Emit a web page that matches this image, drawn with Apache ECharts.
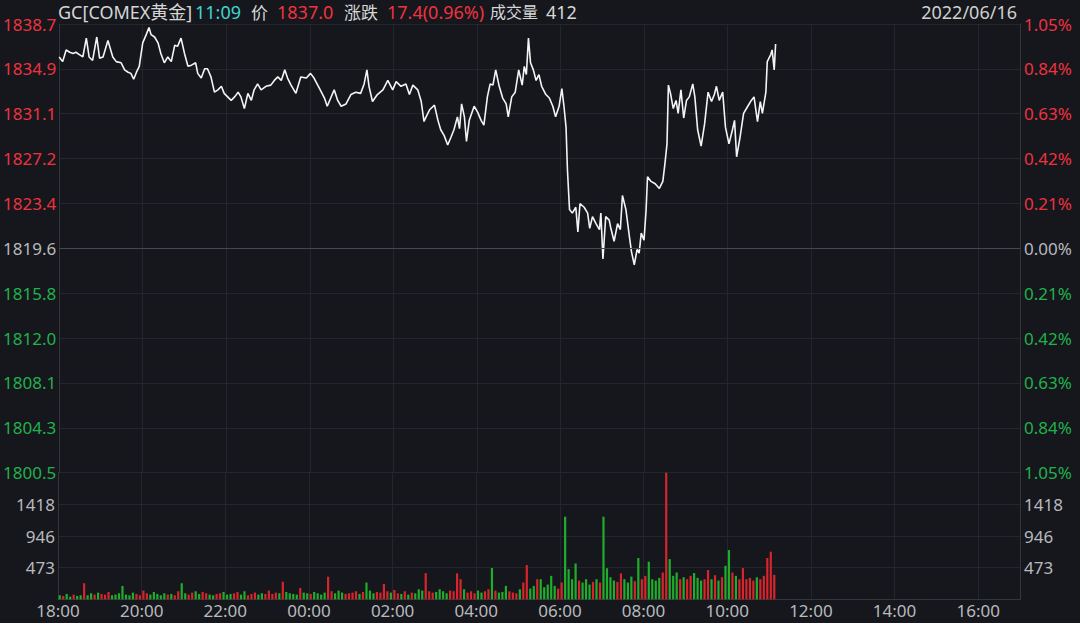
<!DOCTYPE html>
<html><head><meta charset="utf-8">
<script src="https://cdn.jsdelivr.net/npm/echarts@6/dist/echarts.min.js"></script>
<style>html,body{margin:0;padding:0;background:#15171c;}#c{width:1080px;height:623px;}</style>
</head><body><div id="c"></div>
<script>
// ---- data ----
const symbolName = 'GC[COMEX黄金]';
const tradeDate = '2022/06/16';
const sessionOpen = '18:00';
const sessionLengthMin = 1380;        // 18:00 -> next day 17:00
const prevClose = 1819.6;
const rangePct = 1.05;                // axis spans ±1.05%
const lastVolume = 412;
const volumeMax = 1891;
// minutes after 18:00
const minutes = [0,5,10,15,20,24,29,34,39,43,48,54,58,63,70,77,82,89,94,99,103,107,111,115,
120,125,129,132,137,142,146,151,156,161,166,170,175,180,185,190,196,199,204,209,213,218,223,228,233,237,
242,247,252,257,261,266,271,276,280,285,290,297,304,309,314,319,324,328,333,340,347,355,361,366,374,381,
385,390,395,400,405,412,419,426,433,438,442,445,450,457,465,472,479,484,491,498,503,508,515,520,524,527,
532,539,544,548,553,558,563,567,572,575,578,582,585,589,596,601,606,610,615,619,623,627,632,637,642,645,
650,655,660,665,668,671,674,677,681,685,689,693,699,704,709,713,718,722,725,728,730,733,737,742,745,748,
754,759,762,766,771,776,778,781,785,790,792,797,802,806,809,814,819,822,826,830,833,836,840,843,845,850,
856,862,867,870,873,875,878,882,886,889,893,897,901,905,910,913,917,922,927,932,937,941,944,948,953,957,
962,967,970,973,978,983,989,993,998,1003,1007,1010,1015,1017,1022,1024,1027,1029];
const prices = [1835.9,1835.5,1836.5,1836.3,1836.2,1836.3,1836.1,1835.9,1837.5,1835.9,1835.6,1837.6,1835.8,1835.9,1837.3,1835.9,1835.5,1835.4,1834.8,1834.6,1834.5,1834.0,1834.6,1835.1,
1837.1,1837.8,1838.4,1837.8,1837.6,1837.1,1836.2,1835.4,1835.9,1835.5,1836.9,1836.8,1837.5,1836.2,1835.1,1835.2,1835.4,1834.5,1834.1,1834.9,1834.9,1834.2,1832.9,1833.1,1833.4,1832.8,
1832.5,1832.2,1832.5,1832.9,1832.5,1831.5,1832.8,1832.2,1833.1,1833.6,1833.1,1833.4,1833.5,1833.9,1834.2,1833.9,1834.8,1834.1,1833.5,1832.8,1834.2,1834.1,1834.5,1834.1,1833.2,1832.4,
1831.7,1832.4,1833.1,1832.2,1831.7,1831.9,1832.7,1832.9,1832.8,1833.6,1834.8,1833.4,1832.1,1832.7,1833.1,1833.9,1833.1,1833.8,1833.4,1833.6,1832.7,1833.5,1833.1,1832.1,1830.4,1830.8,
1831.4,1831.8,1830.5,1829.7,1829.2,1828.4,1829.1,1829.7,1830.8,1829.8,1831.9,1830.8,1828.7,1830.5,1831.7,1831.2,1830.5,1830.1,1832.5,1833.6,1833.5,1834.8,1833.4,1832.4,1831.9,1830.8,
1832.5,1832.9,1834.8,1833.5,1835.1,1834.4,1837.5,1835.4,1834.8,1833.9,1834.4,1833.4,1832.7,1832.4,1831.7,1830.8,1831.7,1833.2,1831.7,1829.9,1826.3,1822.9,1822.6,1823.1,1821.0,1823.4,
1823.1,1822.6,1821.3,1822.3,1821.7,1821.2,1822.6,1818.7,1822.3,1822.0,1821.4,1820.2,1821.7,1821.2,1824.1,1822.9,1820.6,1819.3,1818.2,1819.5,1819.2,1820.9,1820.3,1822.9,1825.7,1825.3,
1825.1,1824.7,1825.3,1826.8,1828.5,1833.5,1832.8,1831.5,1832.2,1831.1,1833.1,1830.7,1832.2,1832.5,1833.6,1832.5,1829.7,1828.3,1830.2,1832.9,1832.1,1832.7,1833.4,1832.2,1832.9,1829.9,
1828.5,1829.7,1830.5,1827.4,1829.1,1831.1,1831.7,1832.1,1832.5,1830.4,1832.1,1831.1,1832.9,1835.5,1836.1,1836.5,1834.8,1837.0];
// volume per 5-minute slot from 18:00
const volumeStep = 5;
const volumes = [
60,50,80,40,70,50,60,240,60,90,70,100,
80,70,110,60,70,90,200,70,60,100,80,60,
130,90,70,110,80,60,90,70,80,60,120,240,
90,70,100,120,80,110,90,70,60,80,90,110,
70,80,90,110,70,120,60,80,100,70,90,80,
130,80,100,90,263,110,90,80,70,170,100,90,
80,110,90,70,100,338,120,90,130,100,80,90,
100,120,80,110,250,130,90,110,100,228,120,100,
140,90,80,120,70,100,90,150,130,390,120,100,
110,150,120,90,130,120,387,300,150,100,120,90,
130,100,120,150,467,130,100,110,200,120,100,90,
150,250,512,160,200,300,300,180,220,350,200,160,
250,1234,450,300,535,280,250,300,220,260,300,250,
1234,464,330,280,260,387,300,250,340,270,617,300,
350,562,300,280,320,400,1891,600,350,400,300,330,
300,350,392,320,280,300,437,300,360,280,330,500,
735,400,350,300,467,300,320,280,330,300,350,617,
711,365];

// ---- style ----
const BG = '#15171c', GRID = '#23262c', AXIS = '#33363c', ZERO = '#45484e';
const GRAY = '#b8babd', RED = '#f0323f', GREEN = '#22b14c', CYAN = '#3fd3cf';
const FONT = "'Noto Sans','Noto Sans CJK SC',sans-serif";

const openMin = parseInt(sessionOpen) * 60 + parseInt(sessionOpen.split(':')[1]);
const fmtTime = m => { const t = (openMin + m) % 1440; return String(Math.floor(t/60)).padStart(2,'0') + ':' + String(t%60).padStart(2,'0'); };
const range = prevClose * rangePct / 100;
const pMin = prevClose - range, pMax = prevClose + range, pInt = range / 5;
const colorFor = v => Math.abs(v - prevClose) < 1e-6 ? GRAY : (v > prevClose ? RED : GREEN);

const linePts = minutes.map((m, i) => [m, prices[i]]);
const priceAt = t => { let p = prices[0]; for (let i = 0; i < minutes.length; i++) { if (minutes[i] <= t) p = prices[i]; else break; } return p; };
let prevCol = '#d8242c';
const volData = volumes.map((v, i) => {
  const a = priceAt(i * volumeStep), b = priceAt(Math.min((i + 1) * volumeStep, minutes[minutes.length - 1]));
  let c = b > a ? '#d8242c' : (b < a ? '#1fae2c' : prevCol);
  prevCol = c;
  return { value: [i * volumeStep + volumeStep / 2, v], itemStyle: { color: c } };
});

const last = prices[prices.length - 1];
const chg = last - prevClose;
const headerItems = [
  { x: 58, text: symbolName, fill: '#d6d6d6', size: 18 },
  { x: 195, text: fmtTime(minutes[minutes.length - 1]), fill: CYAN, size: 18 },
  { x: 251, text: '价', fill: '#d6d6d6', size: 17 },
  { x: 277, text: last.toFixed(1), fill: RED, size: 18 },
  { x: 344, text: '涨跌', fill: '#d6d6d6', size: 17 },
  { x: 387, text: chg.toFixed(1) + '(' + (chg / prevClose * 100).toFixed(2) + '%)', fill: RED, size: 18 },
  { x: 490, text: '成交量', fill: '#d6d6d6', size: 16 },
  { x: 546, text: String(lastVolume), fill: '#d6d6d6', size: 18 }
];
const graphics = headerItems.map(h => ({ type: 'text', x: h.x, y: 12, style: { text: h.text, fill: h.fill, font: h.size + 'px ' + FONT, verticalAlign: 'middle' } }));
graphics.push({ type: 'text', x: 1017, y: 12, style: { text: tradeDate, fill: '#d0d0d0', font: '18px ' + FONT, align: 'right', verticalAlign: 'middle' } });

const chart = echarts.init(document.getElementById('c'), null, { renderer: 'svg', width: 1080, height: 623 });
const lbl = { fontSize: 17, fontFamily: FONT };
chart.setOption({
  backgroundColor: BG,
  animation: false,
  graphic: graphics,
  grid: [
    { left: 58, right: 60, top: 24, height: 448.7 },
    { left: 58, right: 60, top: 472.7, height: 126.6 }
  ],
  xAxis: [
    { gridIndex: 0, type: 'value', min: 0, max: sessionLengthMin, interval: 120,
      axisLine: { show: false }, axisTick: { show: false }, axisLabel: { show: false },
      splitLine: { show: true, lineStyle: { color: GRID } } },
    { gridIndex: 1, type: 'value', min: 0, max: sessionLengthMin, interval: 120,
      axisLine: { show: true, lineStyle: { color: AXIS } }, axisTick: { show: false },
      axisLabel: Object.assign({ color: GRAY, margin: 3, formatter: v => (v % 120 === 0 && v < sessionLengthMin) ? fmtTime(v) : '' }, lbl),
      splitLine: { show: true, lineStyle: { color: GRID } } }
  ],
  yAxis: [
    { gridIndex: 0, type: 'value', min: pMin, max: pMax, interval: pInt, position: 'left',
      axisLine: { show: true, lineStyle: { color: AXIS } }, axisTick: { show: false },
      axisLabel: Object.assign({ margin: 3, formatter: v => Number(v).toFixed(1), color: v => colorFor(Number(v)) }, lbl),
      splitLine: { show: true, lineStyle: { color: GRID } } },
    { gridIndex: 0, type: 'value', min: pMin, max: pMax, interval: pInt, position: 'right',
      axisLine: { show: true, lineStyle: { color: AXIS } }, axisTick: { show: false },
      axisLabel: Object.assign({ margin: 4, formatter: v => (Math.abs(Number(v) - prevClose) / prevClose * 100).toFixed(2) + '%', color: v => colorFor(Number(v)) }, lbl),
      splitLine: { show: false } },
    { gridIndex: 1, type: 'value', min: 0, max: volumeMax, interval: volumeMax / 4, position: 'left',
      axisLine: { show: true, lineStyle: { color: AXIS } }, axisTick: { show: false },
      axisLabel: Object.assign({ margin: 3, color: GRAY, formatter: v => (v <= 0 || v >= volumeMax - 1e-6) ? '' : String(Math.round(v)) }, lbl),
      splitLine: { show: true, lineStyle: { color: GRID } } },
    { gridIndex: 1, type: 'value', min: 0, max: volumeMax, interval: volumeMax / 4, position: 'right',
      axisLine: { show: true, lineStyle: { color: AXIS } }, axisTick: { show: false },
      axisLabel: Object.assign({ margin: 4, color: GRAY, formatter: v => (v <= 0 || v >= volumeMax - 1e-6) ? '' : String(Math.round(v)) }, lbl),
      splitLine: { show: false } }
  ],
  series: [
    { type: 'line', xAxisIndex: 0, yAxisIndex: 0, data: linePts, showSymbol: false, symbol: 'none',
      lineStyle: { color: '#f4f4f4', width: 1.6 },
      markLine: { silent: true, symbol: 'none', label: { show: false }, lineStyle: { color: ZERO, type: 'solid', width: 1 }, data: [{ yAxis: prevClose }] } },
    { type: 'bar', xAxisIndex: 1, yAxisIndex: 2, data: volData, barWidth: 2.2 }
  ]
});
</script></body></html>
